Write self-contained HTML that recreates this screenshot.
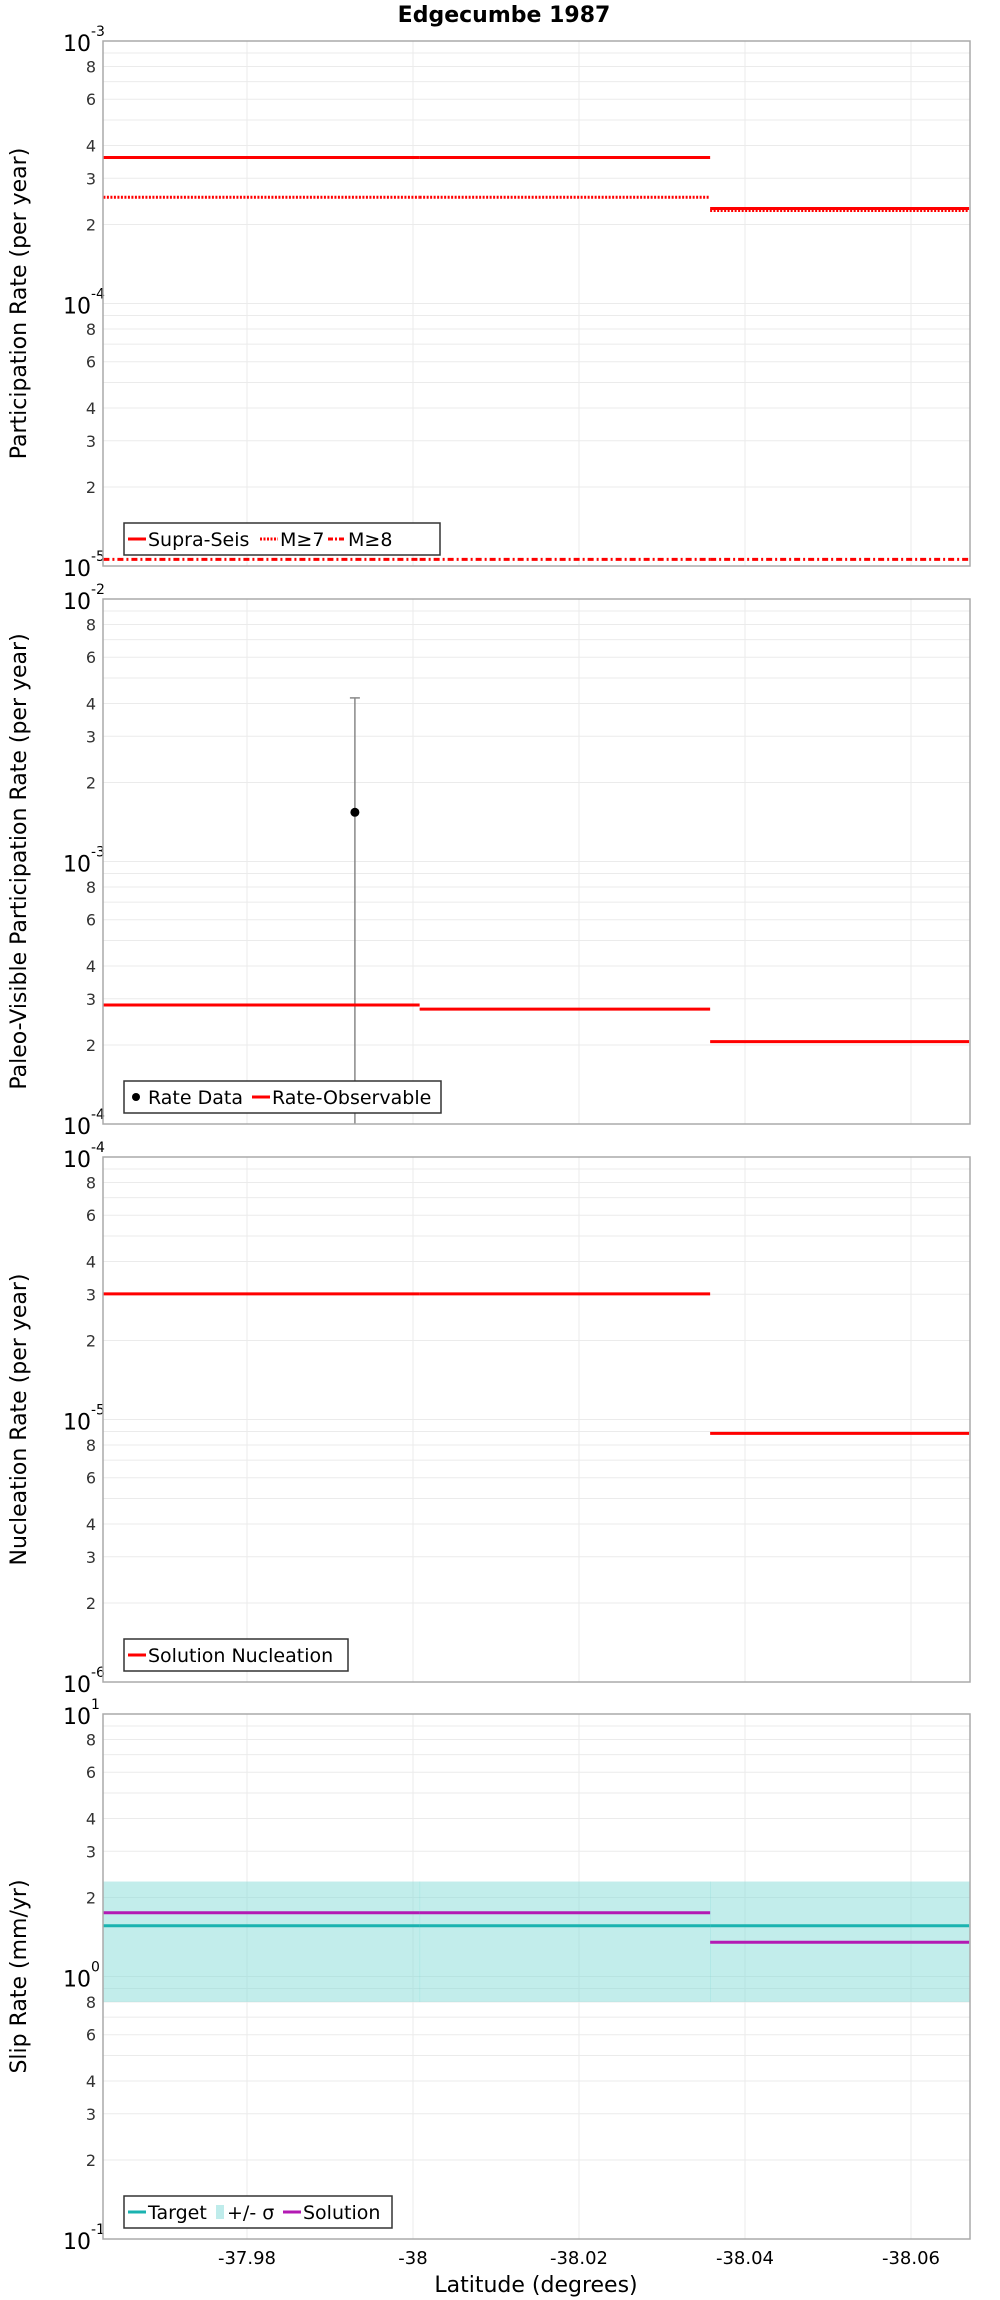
<!DOCTYPE html>
<html><head><meta charset="utf-8"><style>
html,body{margin:0;padding:0;background:#fff;}
svg{display:block;font-family:"DejaVu Sans","Liberation Sans",sans-serif;}
</style></head><body>
<svg id="chart" width="1000" height="2300" viewBox="0 0 1000 2300" xmlns="http://www.w3.org/2000/svg">
<text x="504" y="22" text-anchor="middle" font-size="22" font-weight="bold">Edgecumbe 1987</text>
<text x="536" y="2292" text-anchor="middle" font-size="22">Latitude (degrees)</text>
</svg>
<script>
// ---- data ----
const xTicks = [-37.98, -38.00, -38.02, -38.04, -38.06];
const xTickLabels = ["-37.98", "-38", "-38.02", "-38.04", "-38.06"];
const segStart = [-37.9627, -38.0008, -38.0358];
const segEnd = [-38.0008, -38.0358, -38.067];
// panel 1
const supraSeis = [3.6e-4, 3.6e-4, 2.3e-4];
const m7 = [2.54e-4, 2.54e-4, 2.26e-4];
const m8 = [1.06e-5, 1.06e-5, 1.06e-5];
// panel 2
const rateDataLat = [-37.993];
const rateDataVal = [1.54e-3];
const rateDataHi = [4.2e-3];
const rateDataLo = [5e-5];
const rateObs = [2.84e-4, 2.74e-4, 2.06e-4];
// panel 3
const nucleation = [3.01e-5, 3.01e-5, 8.85e-6];
// panel 4
const slipTarget = [1.56, 1.56, 1.56];
const slipHi = [2.3, 2.3, 2.3];
const slipLo = [0.80, 0.80, 0.80];
const slipSolution = [1.75, 1.75, 1.35];

const NS = "http://www.w3.org/2000/svg";
const svg = document.getElementById('chart');
const L = 103, R = 970, H = 525;
const tops = [41, 599, 1157, 1714];
function xs(v){ return 247 + (-37.98 - v) / 0.02 * 166; }
function mk(tag, attrs, parent){ const e = document.createElementNS(NS, tag); for (const k in attrs) e.setAttribute(k, attrs[k]); (parent||svg).appendChild(e); return e; }
function yScale(top, maxExp){ return v => top + (maxExp - Math.log10(v)) / 2 * H; }

function decadeLabel(g, y, e){
  const t = mk('text', {x:L-12, y:y+10, 'text-anchor':'end', 'font-size':22, fill:'#000'}, g);
  
  
  t.textContent = '10';
  const s = mk('text', {x:L-12, y:y-5, 'font-size':14, fill:'#000'}, g);
  
  
  s.textContent = String(e);
}

function panel(idx, maxExp, title, name){
  const top = tops[idx];
  const g = mk('g', {});
  
  
  const ys = yScale(top, maxExp);
  mk('rect', {x:L, y:top, width:R-L, height:H, fill:'#fff'}, g);
  for (let e = maxExp - 2; e < maxExp; e++) {
    for (let m = 1; m <= 9; m++) {
      const v = m * Math.pow(10, e);
      const y = ys(v);
      const gl = mk('line', {x1:L, x2:R, y1:y, y2:y, stroke:'#ebebeb', 'stroke-width':1}, g);
      
      
      if (m === 1) {
        decadeLabel(g, y, e);
      } else if (m !== 5 && m !== 7 && m !== 9) {
        const t = mk('text', {x:L-7, y:y+6, 'text-anchor':'end', 'font-size':16, fill:'#333'}, g);
        
        
        t.textContent = String(m);
      }
    }
  }
  decadeLabel(g, top, maxExp);
  xTicks.forEach(v => {
    const x = xs(v);
    const gl = mk('line', {x1:x, x2:x, y1:top, y2:top+H, stroke:'#ebebeb', 'stroke-width':1}, g);
    
    
  });
  const yt = mk('text', {transform:`translate(26,${top+H/2}) rotate(-90)`, 'text-anchor':'middle', 'font-size':22}, g);
  
  
  yt.textContent = title;
  return {g, ys, top};
}
function clipFor(p, id){
  const cp = mk('clipPath', {id:id});
  mk('rect', {x:L, y:p.top, width:R-L, height:H}, cp);
  return mk('g', {'clip-path':`url(#${id})`}, p.g);
}
function segs(p, parent, vals, style, name){
  vals.forEach((v, i) => {
    const y = p.ys(v);
    const ln = mk('line', Object.assign({x1:xs(segStart[i]), x2:xs(segEnd[i]), y1:y, y2:y}, style), parent);
    
    
  });
}
function frame(p){
  const f = mk('rect', {x:L, y:p.top, width:R-L, height:H, fill:'none', stroke:'#aaa', 'stroke-width':1.5}, p.g);
  
  
}
function legend(p, w, items){
  const top = p.top + H - 43;
  const lg = mk('g', {}, p.g);
  
  
  mk('rect', {x:124, y:top, width:w, height:32, fill:'#fff', stroke:'#333', 'stroke-width':1.5}, lg);
  let x = 128;
  items.forEach(it => {
    const e = mk('g', {}, lg);
    
    
    const cy = top + 16;
    if (it.type === 'line') { mk('line', {x1:x, x2:x+18, y1:cy, y2:cy, stroke:it.color, 'stroke-width':3, 'stroke-dasharray':it.dash||'none'}, e); x += 20; }
    else if (it.type === 'dot') { mk('circle', {cx:x+8, cy:cy, r:4, fill:'#000'}, e); x += 20; }
    else { mk('rect', {x:x, y:cy-7, width:8, height:14, fill:'#bfeceb'}, e); x += 11; }
    const t = mk('text', {x:x, y:cy+7, 'font-size':19}, e);
    t.textContent = it.label;
    x += it.w;
  });
}

const p1 = panel(0, -3, 'Participation Rate (per year)', 'participation-panel');
const c1 = clipFor(p1, 'c1');
segs(p1, c1, supraSeis, {stroke:'#f00', 'stroke-width':3}, 'supra-seis');
segs(p1, c1, m7, {stroke:'#f00', 'stroke-width':3, 'stroke-dasharray':'2,1.5'}, 'm7');
segs(p1, c1, m8, {stroke:'#f00', 'stroke-width':3, 'stroke-dasharray':'6,3,2,3'}, 'm8');
frame(p1);
legend(p1, 316, [{type:'line', color:'#f00', label:'Supra-Seis', w:112},{type:'line', color:'#f00', dash:'2,1.5', label:'M≥7', w:48},{type:'line', color:'#f00', dash:'5,2,2,2', label:'M≥8', w:40}]);

const p2 = panel(1, -2, 'Paleo-Visible Participation Rate (per year)', 'paleo-panel');
const c2 = clipFor(p2, 'c2');
rateDataLat.forEach((lat, i) => {
  const x = xs(lat);
  const eb = mk('line', {x1:x, x2:x, y1:p2.ys(rateDataHi[i]), y2:p2.ys(rateDataLo[i]), stroke:'#888', 'stroke-width':1.5}, c2);
  
  
  const cap = mk('line', {x1:x-5, x2:x+5, y1:p2.ys(rateDataHi[i]), y2:p2.ys(rateDataHi[i]), stroke:'#888', 'stroke-width':1.5}, c2);
  
  
});
segs(p2, c2, rateObs, {stroke:'#f00', 'stroke-width':3}, 'rate-observable');
rateDataLat.forEach((lat, i) => {
  const pt = mk('circle', {cx:xs(lat), cy:p2.ys(rateDataVal[i]), r:4.5, fill:'#000'}, c2);
  
  
});
frame(p2);
legend(p2, 317, [{type:'dot', label:'Rate Data', w:104},{type:'line', color:'#f00', label:'Rate-Observable', w:160}]);

const p3 = panel(2, -4, 'Nucleation Rate (per year)', 'nucleation-panel');
const c3 = clipFor(p3, 'c3');
segs(p3, c3, nucleation, {stroke:'#f00', 'stroke-width':3}, 'solution-nucleation');
frame(p3);
legend(p3, 224, [{type:'line', color:'#f00', label:'Solution Nucleation', w:200}]);

const p4 = panel(3, 1, 'Slip Rate (mm/yr)', 'slip-rate-panel');
const c4 = clipFor(p4, 'c4');
slipHi.forEach((v, i) => {
  const b = mk('rect', {x:xs(segStart[i]), y:p4.ys(v), width:xs(segEnd[i])-xs(segStart[i])+0.5, height:p4.ys(slipLo[i])-p4.ys(v), fill:'#7fd9d6', 'fill-opacity':0.48}, c4);
  
  
});
segs(p4, c4, slipTarget, {stroke:'#1ab3b0', 'stroke-width':3}, 'target');
segs(p4, c4, slipSolution, {stroke:'#b31ab3', 'stroke-width':3}, 'solution');
frame(p4);
legend(p4, 268, [{type:'line', color:'#1ab3b0', label:'Target', w:68},{type:'band', label:'+/- σ', w:56},{type:'line', color:'#b31ab3', label:'Solution', w:80}]);

xTicks.forEach((v, i) => {
  const t = mk('text', {x:xs(v), y:2264, 'text-anchor':'middle', 'font-size':18});
  
  
  t.textContent = xTickLabels[i];
});
</script>
</body></html>
